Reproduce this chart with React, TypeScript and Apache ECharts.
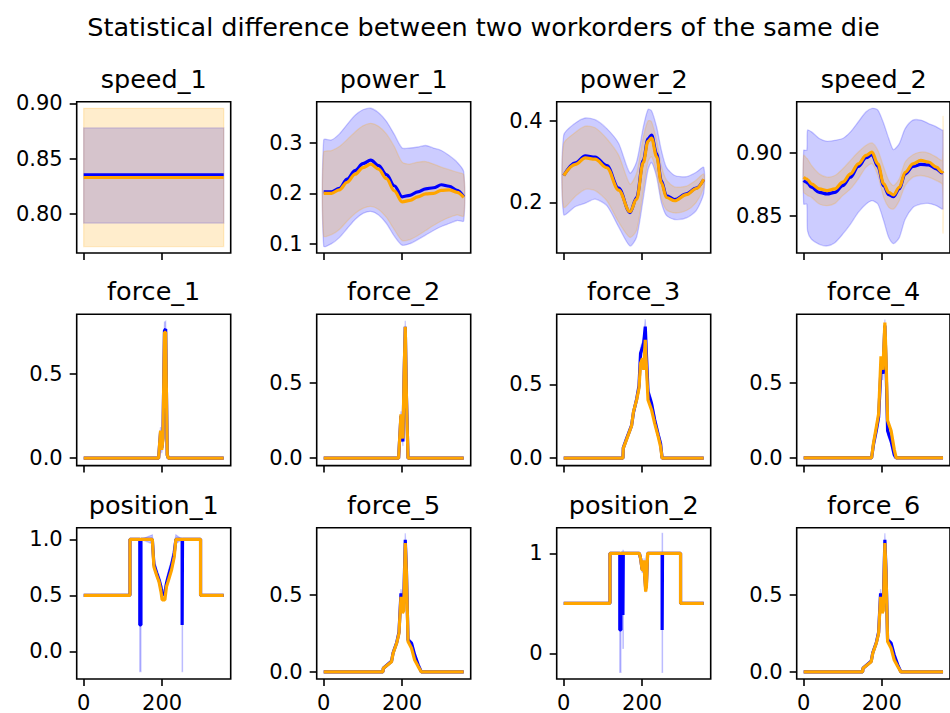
import React, { useEffect, useRef } from "react";
import * as echarts from "echarts";

const FONT = "DejaVu Sans";
const BLUE = "#0000ff";
const ORANGE = "#ffa500";
const BLUE_FILL = "rgba(0,0,255,0.2)";
const ORANGE_FILL = "rgba(255,165,0,0.2)";

const SUPTITLE = "Statistical difference between two workorders of the same die";
const xTicks = [0, 200];

// ---------- speed_1 ----------
const speed1X = [0, 357];
const speed1BlueMean = [0.8355, 0.8355];
const speed1BlueLow = [0.7918, 0.7918];
const speed1BlueHigh = [0.8778, 0.8778];
const speed1OrangeMean = [0.833, 0.833];
const speed1OrangeLow = [0.7706, 0.7706];
const speed1OrangeHigh = [0.8955, 0.8955];

// ---------- power_1 ----------
const power1X = [0, 20, 40, 60, 80, 100, 120, 140, 160, 180, 200, 220, 240, 260, 280, 300, 320, 340, 357];
const power1BlueMean = [0.203, 0.203, 0.21, 0.228, 0.245, 0.259, 0.266, 0.255, 0.237, 0.215, 0.193, 0.196, 0.203, 0.209, 0.211, 0.217, 0.214, 0.206, 0.193];
const power1BlueLow = [0.095, 0.1, 0.112, 0.13, 0.148, 0.16, 0.164, 0.157, 0.14, 0.115, 0.097, 0.1, 0.108, 0.117, 0.126, 0.134, 0.14, 0.146, 0.145];
const power1BlueHigh = [0.306, 0.306, 0.318, 0.337, 0.355, 0.366, 0.369, 0.36, 0.343, 0.317, 0.29, 0.29, 0.292, 0.295, 0.29, 0.285, 0.275, 0.262, 0.243];
const power1OrangeMean = [0.2, 0.2, 0.207, 0.222, 0.238, 0.251, 0.258, 0.248, 0.229, 0.205, 0.183, 0.186, 0.193, 0.199, 0.2, 0.206, 0.207, 0.202, 0.192];
const power1OrangeLow = [0.115, 0.118, 0.128, 0.145, 0.16, 0.17, 0.174, 0.168, 0.152, 0.128, 0.106, 0.108, 0.116, 0.126, 0.136, 0.145, 0.152, 0.157, 0.155];
const power1OrangeHigh = [0.282, 0.285, 0.293, 0.307, 0.322, 0.334, 0.339, 0.333, 0.318, 0.293, 0.262, 0.258, 0.262, 0.263, 0.258, 0.252, 0.247, 0.242, 0.237];

// ---------- power_2 ----------
const power2X = [0, 30, 55, 80, 110, 140, 169, 186, 203, 215, 224, 237, 249, 262, 283, 313, 338, 357];
const power2BlueMean = [0.266, 0.297, 0.314, 0.311, 0.29, 0.235, 0.175, 0.212, 0.303, 0.356, 0.365, 0.319, 0.253, 0.216, 0.207, 0.221, 0.235, 0.256];
const power2BlueLow = [0.17, 0.19, 0.198, 0.208, 0.192, 0.14, 0.093, 0.115, 0.21, 0.28, 0.298, 0.262, 0.2, 0.168, 0.158, 0.162, 0.18, 0.222];
const power2BlueHigh = [0.365, 0.395, 0.407, 0.403, 0.381, 0.345, 0.272, 0.3, 0.385, 0.428, 0.425, 0.385, 0.328, 0.286, 0.266, 0.263, 0.274, 0.286];
const power2OrangeMean = [0.266, 0.293, 0.309, 0.306, 0.285, 0.23, 0.177, 0.208, 0.298, 0.35, 0.358, 0.312, 0.248, 0.212, 0.204, 0.219, 0.234, 0.257];
const power2OrangeLow = [0.188, 0.215, 0.232, 0.229, 0.204, 0.152, 0.114, 0.132, 0.23, 0.3, 0.312, 0.272, 0.21, 0.182, 0.174, 0.18, 0.2, 0.237];
const power2OrangeHigh = [0.344, 0.372, 0.387, 0.383, 0.356, 0.316, 0.245, 0.272, 0.36, 0.4, 0.398, 0.352, 0.29, 0.255, 0.238, 0.24, 0.255, 0.27];

// ---------- speed_2 ----------
const speed2X = [0, 8, 10, 20, 40, 60, 80, 100, 120, 140, 160, 175, 190, 205, 218, 230, 245, 260, 280, 300, 320, 340, 355, 357];
const speed2BlueMean = [0.8779, 0.8765, 0.876, 0.8726, 0.8686, 0.8673, 0.8686, 0.8739, 0.8806, 0.8891, 0.896, 0.8984, 0.8891, 0.8739, 0.8668, 0.8652, 0.8713, 0.8832, 0.8891, 0.8907, 0.8904, 0.8872, 0.884, 0.8838];
const speed2BlueLow = [0.8593, 0.8593, 0.838, 0.8314, 0.8274, 0.8261, 0.8287, 0.8354, 0.8434, 0.8527, 0.8593, 0.862, 0.8593, 0.846, 0.8327, 0.8279, 0.8327, 0.8473, 0.8566, 0.8593, 0.8598, 0.858, 0.8553, 0.8553];
const speed2BlueHigh = [0.9019, 0.9019, 0.9178, 0.9165, 0.9112, 0.909, 0.9098, 0.9112, 0.9165, 0.9245, 0.9324, 0.9351, 0.9338, 0.9231, 0.9112, 0.9024, 0.9072, 0.9191, 0.9258, 0.9258, 0.9231, 0.9205, 0.9178, 0.9178];
const speed2OrangeMean = [0.8806, 0.879, 0.8785, 0.8753, 0.8713, 0.87, 0.8713, 0.8766, 0.8832, 0.8912, 0.8979, 0.9005, 0.8912, 0.8753, 0.8686, 0.8665, 0.8726, 0.8845, 0.8912, 0.8939, 0.8926, 0.8885, 0.8845, 0.8838];
const speed2OrangeLow = [0.8686, 0.8666, 0.866, 0.8646, 0.8593, 0.858, 0.8598, 0.866, 0.8713, 0.8793, 0.8886, 0.8912, 0.8819, 0.8646, 0.8566, 0.8553, 0.862, 0.8739, 0.8806, 0.8819, 0.8806, 0.8779, 0.8747, 0.8367];
const speed2OrangeHigh = [0.8979, 0.8955, 0.895, 0.8899, 0.8832, 0.8806, 0.8819, 0.8872, 0.8939, 0.9005, 0.9059, 0.9077, 0.9019, 0.8886, 0.8779, 0.8739, 0.8793, 0.8926, 0.8984, 0.9005, 0.8997, 0.8965, 0.8939, 0.9285];

// ---------- force_1 ----------
const force1X = [0, 191, 196, 199, 202, 206, 209, 213, 216, 357];
const force1BlueMean = [0, 0, 0.155, 0.06, 0.12, 0.76, 0.77, 0.02, 0, 0];
const force1BlueLow = [0, 0, 0.125, 0.03, 0.08, 0.71, 0.72, 0, 0, 0];
const force1BlueHigh = [0, 0, 0.185, 0.09, 0.16, 0.81, 0.815, 0.04, 0, 0];
const force1OrangeMean = [0, 0, 0.165, 0.05, 0.11, 0.75, 0.75, 0.02, 0, 0];

// ---------- force_2 ----------
const force2X = [0, 191, 197, 200, 202, 205, 208, 211, 215, 357];
const force2BlueMean = [0, 0, 0.28, 0.18, 0.11, 0.54, 0.87, 0.41, 0, 0];
const force2BlueLow = [0, 0, 0.25, 0.15, 0.08, 0.5, 0.83, 0.38, 0, 0];
const force2BlueHigh = [0, 0, 0.31, 0.21, 0.14, 0.58, 0.91, 0.44, 0, 0];
const force2OrangeMean = [0, 0, 0.29, 0.2, 0.13, 0.55, 0.87, 0.4, 0, 0];

// ---------- force_3 ----------
const force3X = [0, 151, 152, 160, 173, 178, 186, 192, 196, 201, 204, 208, 211, 215, 224, 232, 241, 247, 251, 357];
const force3BlueMean = [0, 0, 0.07, 0.13, 0.22, 0.31, 0.4, 0.49, 0.71, 0.75, 0.78, 0.89, 0.7, 0.45, 0.37, 0.26, 0.16, 0.1, 0, 0];
const force3BlueLow = [0, 0, 0.05, 0.11, 0.2, 0.29, 0.38, 0.47, 0.67, 0.71, 0.74, 0.84, 0.66, 0.42, 0.34, 0.23, 0.14, 0.08, 0, 0];
const force3BlueHigh = [0, 0, 0.09, 0.15, 0.24, 0.33, 0.42, 0.51, 0.75, 0.79, 0.82, 0.94, 0.74, 0.48, 0.4, 0.29, 0.18, 0.12, 0, 0];
const force3OrangeMean = [0, 0, 0.068, 0.124, 0.218, 0.315, 0.394, 0.473, 0.642, 0.676, 0.597, 0.8, 0.62, 0.394, 0.327, 0.236, 0.146, 0.079, 0, 0];

// ---------- force_4 ----------
const force4X = [0, 174, 179, 186, 192, 198, 203, 208, 211, 215, 224, 232, 237, 357];
const force4BlueMean = [0, 0, 0.09, 0.18, 0.27, 0.59, 0.56, 0.88, 0.62, 0.18, 0.11, 0.02, 0, 0];
const force4BlueLow = [0, 0, 0.07, 0.16, 0.24, 0.52, 0.52, 0.84, 0.58, 0.15, 0.09, 0, 0, 0];
const force4BlueHigh = [0, 0, 0.11, 0.2, 0.3, 0.66, 0.6, 0.92, 0.66, 0.21, 0.13, 0.04, 0, 0];
const force4OrangeMean = [0, 0, 0.1, 0.203, 0.293, 0.676, 0.586, 0.9, 0.676, 0.248, 0.18, 0.056, 0, 0];

// ---------- position_1 ----------
const position1X = [0, 118, 118, 143, 143, 146, 146, 175, 179, 186, 192, 197, 200, 207, 211, 215, 224, 231, 235, 251, 251, 252, 252, 298, 298, 357];
const position1BlueMean = [0.5, 0.5, 1, 1, 0.235, 0.235, 1, 1, 0.78, 0.7, 0.64, 0.577, 0.503, 0.52, 0.607, 0.66, 0.771, 0.88, 1, 1, 0.235, 0.235, 1, 1, 0.5, 0.5];
const position1BlueLow = [0.5, 0.5, 1, 1, -0.18, -0.18, 1, 0.96, 0.73, 0.66, 0.6, 0.53, 0.47, 0.48, 0.56, 0.61, 0.72, 0.81, 0.96, 1, -0.18, -0.18, 1, 1, 0.5, 0.5];
const position1BlueHigh = [0.5, 0.5, 1, 1, 0.65, 0.65, 1, 1.04, 0.83, 0.74, 0.68, 0.62, 0.54, 0.56, 0.65, 0.71, 0.82, 0.95, 1.04, 1, 0.65, 0.65, 1, 1, 0.5, 0.5];
const position1OrangeMean = [0.5, 0.5, 1, 1, 1, 1, 1, 1, 0.756, 0.68, 0.622, 0.533, 0.46, 0.46, 0.577, 0.622, 0.726, 0.845, 1, 1, 1, 1, 1, 1, 0.5, 0.5];

// ---------- force_5 ----------
const force5X = [0, 151, 152, 173, 177, 186, 192, 197, 201, 204, 208, 211, 215, 224, 232, 241, 249, 357];
const force5BlueMean = [0, 0, 0.024, 0.07, 0.125, 0.19, 0.26, 0.513, 0.437, 0.45, 0.861, 0.66, 0.209, 0.187, 0.111, 0.046, 0, 0];
const force5BlueLow = [0, 0, 0.014, 0.06, 0.115, 0.18, 0.245, 0.49, 0.4, 0.42, 0.82, 0.62, 0.193, 0.174, 0.1, 0.037, 0, 0];
const force5BlueHigh = [0, 0, 0.034, 0.08, 0.135, 0.2, 0.275, 0.54, 0.47, 0.48, 0.904, 0.7, 0.225, 0.2, 0.12, 0.055, 0, 0];
const force5OrangeMean = [0, 0, 0.024, 0.067, 0.122, 0.187, 0.252, 0.49, 0.383, 0.4, 0.84, 0.643, 0.198, 0.154, 0.078, 0.035, 0, 0];

// ---------- position_2 ----------
const position2X = [0, 118, 118, 143, 143, 146, 146, 151, 151, 152, 152, 193, 196, 200, 203, 205, 206, 209, 211, 214, 251, 251, 252, 252, 298, 298, 357];
const position2BlueMean = [0.5, 0.5, 1, 1, 0.233, 0.233, 1, 1, 0.383, 0.383, 1, 1, 0.95, 0.84, 0.84, 0.92, 0.82, 0.65, 0.7, 1, 1, 0.233, 0.233, 1, 1, 0.5, 0.5];
const position2BlueLow = [0.5, 0.5, 1, 1, -0.19, -0.19, 1, 1, 0.05, 0.05, 1, 1, 0.93, 0.81, 0.81, 0.89, 0.79, 0.61, 0.66, 1, 1, -0.19, -0.19, 1, 1, 0.5, 0.5];
const position2BlueHigh = [0.5, 0.5, 1, 1, 0.6, 0.6, 1, 1, 1.03, 1.03, 1, 1, 0.97, 0.87, 0.87, 0.95, 0.85, 0.69, 0.74, 1, 1, 1.2, 1.2, 1, 1, 0.5, 0.5];
const position2OrangeMean = [0.5, 0.5, 1, 1, 1, 1, 1, 1, 1, 1, 1, 1, 0.95, 0.833, 0.833, 0.93, 0.8, 0.617, 0.667, 1, 1, 1, 1, 1, 1, 0.5, 0.5];

// ---------- force_6 ----------
const force6X = [0, 151, 152, 173, 177, 186, 192, 197, 201, 204, 208, 211, 215, 224, 232, 241, 249, 357];
const force6BlueMean = [0, 0, 0.024, 0.07, 0.125, 0.19, 0.26, 0.513, 0.437, 0.45, 0.861, 0.66, 0.209, 0.187, 0.111, 0.046, 0, 0];
const force6BlueLow = [0, 0, 0.014, 0.06, 0.115, 0.18, 0.245, 0.49, 0.4, 0.42, 0.82, 0.62, 0.193, 0.174, 0.1, 0.037, 0, 0];
const force6BlueHigh = [0, 0, 0.034, 0.08, 0.135, 0.2, 0.275, 0.54, 0.47, 0.48, 0.904, 0.7, 0.225, 0.2, 0.12, 0.055, 0, 0];
const force6OrangeMean = [0, 0, 0.024, 0.067, 0.122, 0.187, 0.252, 0.49, 0.383, 0.4, 0.84, 0.643, 0.198, 0.154, 0.078, 0.035, 0, 0];

interface Panel {
  title: string;
  x: number[];
  blueMean: number[];
  blueLow: number[];
  blueHigh: number[];
  orangeMean: number[];
  orangeLow?: number[];
  orangeHigh?: number[];
  yMin: number;
  yMax: number;
  yTicks: number[];
  digits: number;
  smooth: boolean;
}

const panels: Panel[] = [
  { title: "speed_1", x: speed1X, blueMean: speed1BlueMean, blueLow: speed1BlueLow, blueHigh: speed1BlueHigh, orangeMean: speed1OrangeMean, orangeLow: speed1OrangeLow, orangeHigh: speed1OrangeHigh, yMin: 0.7648, yMax: 0.9015, yTicks: [0.8, 0.85, 0.9], digits: 2, smooth: false },
  { title: "power_1", x: power1X, blueMean: power1BlueMean, blueLow: power1BlueLow, blueHigh: power1BlueHigh, orangeMean: power1OrangeMean, orangeLow: power1OrangeLow, orangeHigh: power1OrangeHigh, yMin: 0.0814, yMax: 0.382, yTicks: [0.1, 0.2, 0.3], digits: 1, smooth: true },
  { title: "power_2", x: power2X, blueMean: power2BlueMean, blueLow: power2BlueLow, blueHigh: power2BlueHigh, orangeMean: power2OrangeMean, orangeLow: power2OrangeLow, orangeHigh: power2OrangeHigh, yMin: 0.0758, yMax: 0.447, yTicks: [0.2, 0.4], digits: 1, smooth: true },
  { title: "speed_2", x: speed2X, blueMean: speed2BlueMean, blueLow: speed2BlueLow, blueHigh: speed2BlueHigh, orangeMean: speed2OrangeMean, orangeLow: speed2OrangeLow, orangeHigh: speed2OrangeHigh, yMin: 0.8205, yMax: 0.9404, yTicks: [0.85, 0.9], digits: 2, smooth: true },
  { title: "force_1", x: force1X, blueMean: force1BlueMean, blueLow: force1BlueLow, blueHigh: force1BlueHigh, orangeMean: force1OrangeMean, yMin: -0.044, yMax: 0.857, yTicks: [0, 0.5], digits: 1, smooth: false },
  { title: "force_2", x: force2X, blueMean: force2BlueMean, blueLow: force2BlueLow, blueHigh: force2BlueHigh, orangeMean: force2OrangeMean, yMin: -0.049, yMax: 0.952, yTicks: [0, 0.5], digits: 1, smooth: false },
  { title: "force_3", x: force3X, blueMean: force3BlueMean, blueLow: force3BlueLow, blueHigh: force3BlueHigh, orangeMean: force3OrangeMean, yMin: -0.05, yMax: 0.973, yTicks: [0, 0.5], digits: 1, smooth: false },
  { title: "force_4", x: force4X, blueMean: force4BlueMean, blueLow: force4BlueLow, blueHigh: force4BlueHigh, orangeMean: force4OrangeMean, yMin: -0.052, yMax: 0.955, yTicks: [0, 0.5], digits: 1, smooth: false },
  { title: "position_1", x: position1X, blueMean: position1BlueMean, blueLow: position1BlueLow, blueHigh: position1BlueHigh, orangeMean: position1OrangeMean, yMin: -0.247, yMax: 1.104, yTicks: [0, 0.5, 1], digits: 1, smooth: false },
  { title: "force_5", x: force5X, blueMean: force5BlueMean, blueLow: force5BlueLow, blueHigh: force5BlueHigh, orangeMean: force5OrangeMean, yMin: -0.046, yMax: 0.94, yTicks: [0, 0.5], digits: 1, smooth: false },
  { title: "position_2", x: position2X, blueMean: position2BlueMean, blueLow: position2BlueLow, blueHigh: position2BlueHigh, orangeMean: position2OrangeMean, yMin: -0.257, yMax: 1.256, yTicks: [0, 1], digits: 0, smooth: false },
  { title: "force_6", x: force6X, blueMean: force6BlueMean, blueLow: force6BlueLow, blueHigh: force6BlueHigh, orangeMean: force6OrangeMean, yMin: -0.046, yMax: 0.94, yTicks: [0, 0.5], digits: 1, smooth: false },
];

// subplot layout (pixels)
const GRID_LEFT0 = 76.7;
const COL_STEP = 240;
const GRID_W = 154;
const GRID_H = 151.3;
const ROW_TOPS = [101.7, 314.3, 527.7];
const X_MIN = -17.85;
const X_MAX = 374.85;
const TICK_FONT = 21;
const TITLE_FONT = 25.5;

// Shaded band between low and high, drawn as one polygon through the axis scales.
function bandSeries(i: number, xs: number[], lo: number[], hi: number[], fill: string, smooth: boolean) {
  return {
    type: "custom",
    xAxisIndex: i,
    yAxisIndex: i,
    silent: true,
    data: xs.map((x, k) => [x, lo[k], hi[k]]),
    encode: { x: 0, y: [1, 2] },
    renderItem: (params: any, api: any) => {
      if (params.dataIndex !== 0) return null;
      const upper = xs.map((x, k) => api.coord([x, hi[k]]));
      const lower = xs.map((x, k) => api.coord([x, lo[k]])).reverse();
      const ring = upper.concat(lower);
      const sm = smooth ? 0.25 : 0;
      return {
        type: "group",
        children: [
          { type: "polygon", shape: { points: ring, smooth: sm }, style: { fill, stroke: fill, lineWidth: 1.3 } },
        ],
      };
    },
  };
}

function buildOption() {
  const grid: any[] = [];
  const xAxis: any[] = [];
  const yAxis: any[] = [];
  const series: any[] = [];
  const graphic: any[] = [
    {
      type: "text",
      x: 483.5,
      y: 27,
      silent: true,
      style: { text: SUPTITLE, fontSize: TITLE_FONT, fontFamily: FONT, fill: "#000", align: "center", verticalAlign: "middle" },
    },
  ];

  panels.forEach((p, i) => {
    const row = Math.floor(i / 4);
    const col = i % 4;
    const left = GRID_LEFT0 + col * COL_STEP;
    const top = ROW_TOPS[row];
    grid.push({ left, top, width: GRID_W, height: GRID_H, show: true, borderColor: "#000", borderWidth: 1.6, backgroundColor: "transparent" });

    xAxis.push({
      type: "value",
      gridIndex: i,
      position: "bottom",
      min: X_MIN,
      max: X_MAX,
      axisLine: { show: false, onZero: false },
      splitLine: { show: false },
      axisTick: { show: true, length: 7, lineStyle: { color: "#000", width: 1.6 }, customValues: xTicks },
      axisLabel: { show: row === 2, customValues: xTicks, fontSize: TICK_FONT, fontFamily: FONT, color: "#000", margin: 13 },
    });
    yAxis.push({
      type: "value",
      gridIndex: i,
      position: "left",
      min: p.yMin,
      max: p.yMax,
      axisLine: { show: false, onZero: false },
      splitLine: { show: false },
      axisTick: { show: true, length: 7, lineStyle: { color: "#000", width: 1.6 }, customValues: p.yTicks },
      axisLabel: {
        show: true,
        customValues: p.yTicks,
        fontSize: TICK_FONT,
        fontFamily: FONT,
        color: "#000",
        margin: 14,
        formatter: (v: number) => v.toFixed(p.digits),
      },
    });

    const smooth = p.smooth ? 0.35 : false;
    const pairs = (ys: number[]) => p.x.map((x, k) => [x, ys[k]]);
    const common = { type: "line", xAxisIndex: i, yAxisIndex: i, symbol: "none", showSymbol: false, silent: true, smooth, smoothMonotone: "x" };

    series.push(bandSeries(i, p.x, p.blueLow, p.blueHigh, BLUE_FILL, p.smooth));
    if (p.orangeLow && p.orangeHigh) series.push(bandSeries(i, p.x, p.orangeLow, p.orangeHigh, ORANGE_FILL, p.smooth));
    series.push({ ...common, data: pairs(p.blueMean), lineStyle: { color: BLUE, width: 3.2 } });
    series.push({ ...common, data: pairs(p.orangeMean), lineStyle: { color: ORANGE, width: 3.2 } });

    graphic.push({
      type: "text",
      x: left + GRID_W / 2,
      y: top - 23,
      silent: true,
      style: { text: p.title, fontSize: TITLE_FONT, fontFamily: FONT, fill: "#000", align: "center", verticalAlign: "middle" },
    });
  });

  return {
    animation: false,
    backgroundColor: "#fff",
    grid,
    xAxis,
    yAxis,
    series,
    graphic,
  };
}

export default function App() {
  const ref = useRef<HTMLDivElement>(null);
  useEffect(() => {
    if (!ref.current) return;
    const chart = echarts.init(ref.current, undefined, { renderer: "svg" });
    chart.setOption(buildOption() as any);
    return () => chart.dispose();
  }, []);
  return <div ref={ref} style={{ position: "absolute", left: 0, top: 0, width: 950, height: 713 }} />;
}
